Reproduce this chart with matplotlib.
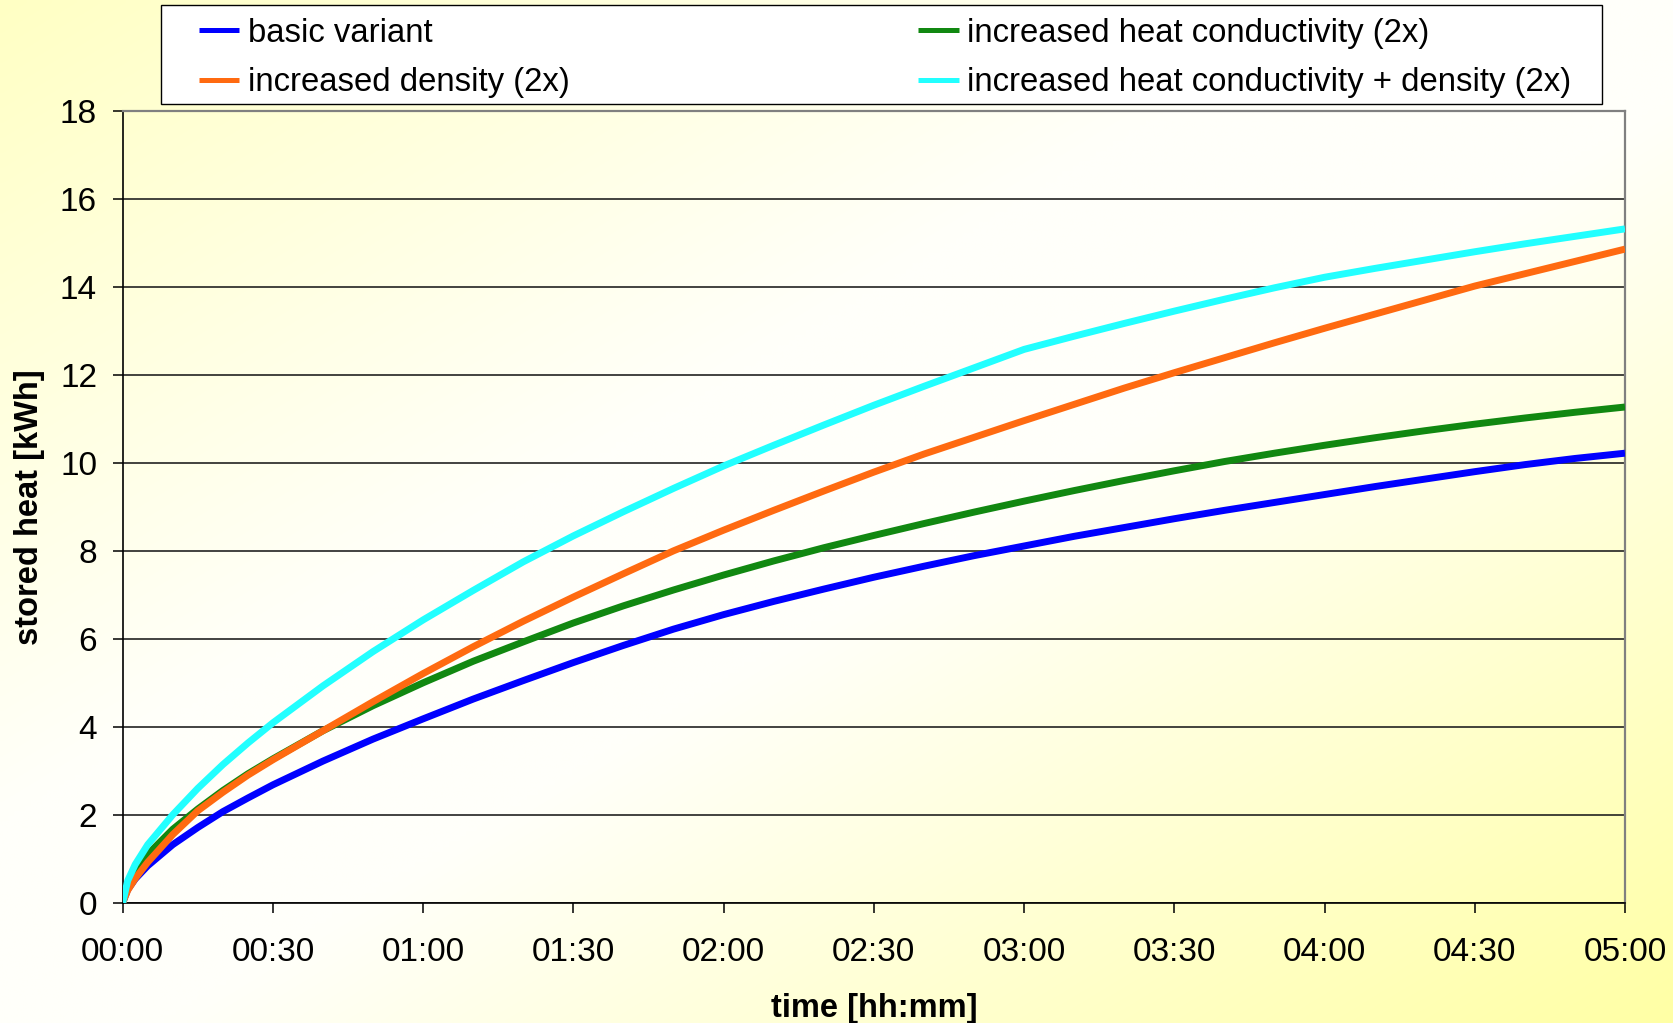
import matplotlib
matplotlib.use("Agg")
import matplotlib.pyplot as plt
from matplotlib.patches import Rectangle
import numpy as np

plt.rcParams['font.family'] = ['Liberation Sans', 'DejaVu Sans']

# time in minutes since start
minutes = [0, 1, 2.5, 5, 10, 15, 20, 25, 30, 40, 50, 60, 70, 80, 90, 100,
           110, 120, 130, 140, 150, 160, 170, 180, 190, 200, 210, 220, 230,
           240, 250, 260, 270, 280, 290, 300]

# stored heat [kWh]
basic = [0, 0.30, 0.54, 0.84, 1.32, 1.71, 2.07, 2.38, 2.68, 3.22, 3.72, 4.18,
         4.63, 5.05, 5.46, 5.85, 6.22, 6.55, 6.85, 7.13, 7.40, 7.65, 7.89,
         8.11, 8.33, 8.53, 8.73, 8.92, 9.10, 9.28, 9.46, 9.63, 9.80, 9.96,
         10.10, 10.22]
density = [0, 0.28, 0.55, 0.92, 1.55, 2.09, 2.51, 2.90, 3.25, 3.91, 4.57,
           5.21, 5.82, 6.40, 6.95, 7.48, 8.0, 8.47, 8.92, 9.36, 9.79, 10.20,
           10.58, 10.96, 11.33, 11.70, 12.05, 12.39, 12.73, 13.06, 13.38,
           13.70, 14.02, 14.30, 14.58, 14.86]
conductivity = [0, 0.42, 0.73, 1.10, 1.67, 2.13, 2.55, 2.93, 3.27, 3.91, 4.48,
                5.0, 5.49, 5.93, 6.36, 6.75, 7.11, 7.45, 7.77, 8.07, 8.35,
                8.62, 8.88, 9.13, 9.37, 9.60, 9.82, 10.03, 10.22, 10.40,
                10.57, 10.73, 10.88, 11.02, 11.15, 11.27]
cond_density = [0, 0.50, 0.87, 1.32, 2.0, 2.60, 3.14, 3.63, 4.09, 4.93, 5.71,
                6.43, 7.10, 7.75, 8.34, 8.89, 9.42, 9.93, 10.40, 10.86, 11.31,
                11.74, 12.16, 12.58, 12.88, 13.17, 13.45, 13.72, 13.98, 14.22,
                14.42, 14.61, 14.80, 14.98, 15.15, 15.32]

labels = ["basic variant", "increased density (2x)",
          "increased heat conductivity (2x)",
          "increased heat conductivity + density (2x)"]
colors = ["#0000FF", "#FF6A10", "#118811", "#22FFFF"]

tick_minutes = [0, 30, 60, 90, 120, 150, 180, 210, 240, 270, 300]
tick_labels = ["00:00", "00:30", "01:00", "01:30", "02:00", "02:30",
               "03:00", "03:30", "04:00", "04:30", "05:00"]
heat_ticks = [0, 2, 4, 6, 8, 10, 12, 14, 16, 18]

W, H = 1673, 1023
fig = plt.figure(figsize=(W / 100, H / 100), dpi=100)

# diagonal yellow-white-yellow background
bg = fig.add_axes([0, 0, 1, 1], zorder=-10)
gx, gy = np.meshgrid(np.linspace(0, 1, 300), np.linspace(0, 1, 200))
t = (gx + gy) / 2
blue_ch = np.interp(t, [0, 0.4, 0.55, 1], [196, 250, 250, 165]) / 255
img = np.dstack([np.ones_like(t), np.ones_like(t), blue_ch])
bg.imshow(img, aspect='auto', extent=[0, 1, 0, 1], interpolation='bilinear')
bg.axis('off')

left, right = 122.7 / W, 1625 / W
bottom, top = 1 - 902.7 / H, 1 - 111 / H
ax = fig.add_axes([left, bottom, right - left, top - bottom])
ax.set_facecolor('none')

series = [basic, density, conductivity, cond_density]
zorders = [3, 5, 4, 6]
lines = []
for vals, lab, col, z in zip(series, labels, colors, zorders):
    ln, = ax.plot(minutes, vals, color=col, lw=5, label=lab, zorder=z,
                  solid_capstyle='butt', solid_joinstyle='round')
    lines.append(ln)

ax.set_xlim(0, 300)
ax.set_ylim(0, 18)
ax.set_xticks(tick_minutes)
ax.set_xticklabels(tick_labels)
ax.set_yticks(heat_ticks)
ax.set_yticklabels([str(v) for v in heat_ticks])

ax.grid(axis='y', color='#222222', lw=1.2, zorder=1)
ax.set_axisbelow(True)
ax.tick_params(axis='both', direction='out', length=7.5, width=1.1,
               color='black', labelsize=24, labelcolor='black')
ax.tick_params(axis='x', pad=17)
ax.tick_params(axis='y', pad=11)

for side in ['left', 'bottom']:
    ax.spines[side].set_color('black')
    ax.spines[side].set_linewidth(1.2)
for side in ['top', 'right']:
    ax.spines[side].set_color('#808080')
    ax.spines[side].set_linewidth(1.6)

ax.set_xlabel("time [hh:mm]", fontsize=23.5, fontweight='bold', va='center')
ax.xaxis.set_label_coords(0.5, (902.7 - 1009) / 791.7)
ax.set_ylabel("stored heat [kWh]", fontsize=23.5, fontweight='bold',
              va='center')
ax.yaxis.set_label_coords((30 - 122.7) / 1502.3, 0.5)

# legend box drawn separately so its padding matches the original
fig.patches.append(Rectangle((161 / W, 1 - 103.5 / H), (1602 - 161) / W,
                             (103.5 - 5) / H, transform=fig.transFigure,
                             facecolor='white', edgecolor='black', lw=1.0,
                             zorder=1))
leg = fig.legend(handles=lines, labels=labels, loc='upper left',
                 bbox_to_anchor=(198.5 / W, 1 - 18 / H), ncol=2,
                 fontsize=23.7, frameon=False, handlelength=1.23,
                 handletextpad=0.26, columnspacing=10.6, labelspacing=0.55,
                 borderpad=0, borderaxespad=0)
leg.set_zorder(2)
for hl in leg.get_lines():
    hl.set_linewidth(3.6)

fig.savefig("out.png", dpi=100)
